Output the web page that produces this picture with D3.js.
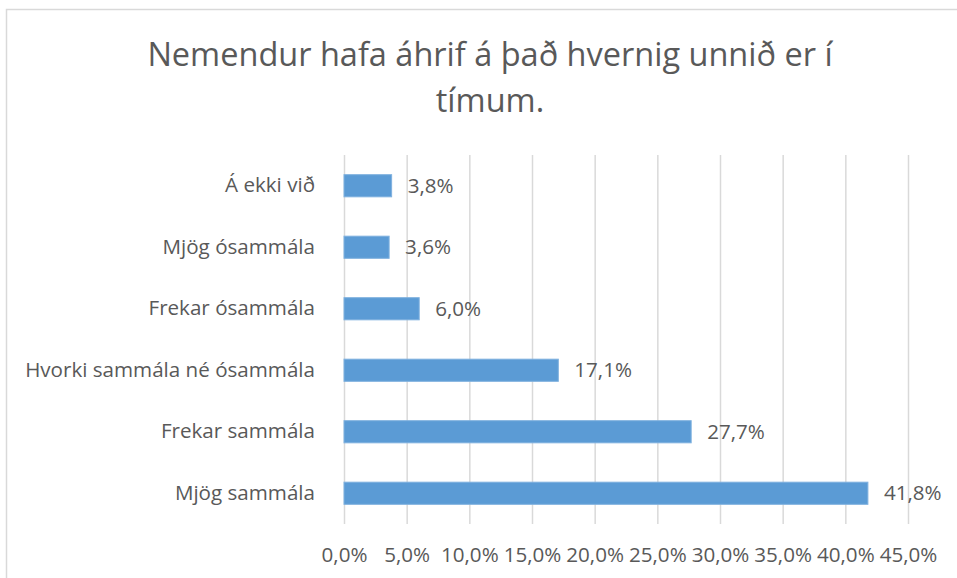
<!DOCTYPE html>
<html>
<head>
<meta charset="utf-8">
<script src="https://cdn.jsdelivr.net/npm/d3@7"></script>
<style>
  body { margin: 0; background: #fff; }
  svg { display: block; font-family: "Open Sans", sans-serif; }
</style>
</head>
<body>
<div id="chart"></div>
<script>
var categories = ["Á ekki við", "Mjög ósammála", "Frekar ósammála", "Hvorki sammála né ósammála", "Frekar sammála", "Mjög sammála"];
var values = [3.8, 3.6, 6.0, 17.1, 27.7, 41.8];
var ticks = [0, 5, 10, 15, 20, 25, 30, 35, 40, 45];
var titleLines = ["Nemendur hafa áhrif á það hvernig unnið er í", "tímum."];

var width = 957, height = 578;
var text_colour = "#595959";
var grid_colour = "#d9d9d9";
var bar_colour = "#5b9bd5";
var label_size = "20.6px";

function pct(v) {
    return v.toFixed(1).replace(".", ",") + "%";
}

var svg = d3.select("#chart")
    .append("svg")
    .attr("width", width)
    .attr("height", height);

// chart area border, runs off the right and bottom edge
svg.append("rect")
    .attr("x", 6.5)
    .attr("y", 9.5)
    .attr("width", width)
    .attr("height", height)
    .attr("fill", "none")
    .attr("stroke", grid_colour)
    .attr("stroke-width", 1.5);

svg.append("g")
    .selectAll("text")
    .data(titleLines)
    .enter()
    .append("text")
    .attr("x", 490)
    .attr("y", function(d, i) { return 66 + i * 46; })
    .attr("text-anchor", "middle")
    .attr("font-size", "32.5px")
    .attr("fill", text_colour)
    .text(function(d) { return d; });

var x = d3.scaleLinear().domain([0, 45]).range([344, 908]);
var y = d3.scaleBand().domain(categories).range([155, 524])
    .paddingInner(0.64).paddingOuter(0.32);

// gridlines
svg.append("g")
    .selectAll("line")
    .data(ticks)
    .enter()
    .append("line")
    .attr("x1", function(d) { return x(d) + 0.5; })
    .attr("x2", function(d) { return x(d) + 0.5; })
    .attr("y1", 155)
    .attr("y2", 524)
    .attr("stroke", grid_colour)
    .attr("stroke-width", 1.5);

// x axis labels
var xAxis = d3.axisBottom(x).tickValues(ticks).tickFormat(pct).tickSize(0).tickPadding(0);
var gx = svg.append("g")
    .attr("transform", "translate(0,562)")
    .call(xAxis);
gx.select(".domain").remove();
gx.selectAll("text")
    .attr("dy", 0)
    .attr("font-size", label_size)
    .attr("font-family", "\"Open Sans\", sans-serif")
    .attr("fill", text_colour);

// category labels
var yAxis = d3.axisLeft(y).tickSize(0).tickPadding(0);
var gy = svg.append("g")
    .attr("transform", "translate(315,0)")
    .call(yAxis);
gy.select(".domain").remove();
gy.selectAll("text")
    .attr("font-size", label_size)
    .attr("font-family", "\"Open Sans\", sans-serif")
    .attr("fill", text_colour);

svg.append("g")
    .selectAll("rect")
    .data(values)
    .enter()
    .append("rect")
    .attr("x", x(0))
    .attr("y", function(d, i) { return y(categories[i]); })
    .attr("width", function(d) { return x(d) - x(0); })
    .attr("height", y.bandwidth())
    .attr("fill", bar_colour)
    .attr("stroke", "#7fb1df")
    .attr("stroke-width", 1);

svg.append("g")
    .selectAll("text")
    .data(values)
    .enter()
    .append("text")
    .attr("x", function(d) { return x(d) + 16; })
    .attr("y", function(d, i) { return y(categories[i]) + y.bandwidth() / 2; })
    .attr("dy", "0.35em")
    .attr("font-size", label_size)
    .attr("fill", text_colour)
    .text(pct);
</script>
</body>
</html>
